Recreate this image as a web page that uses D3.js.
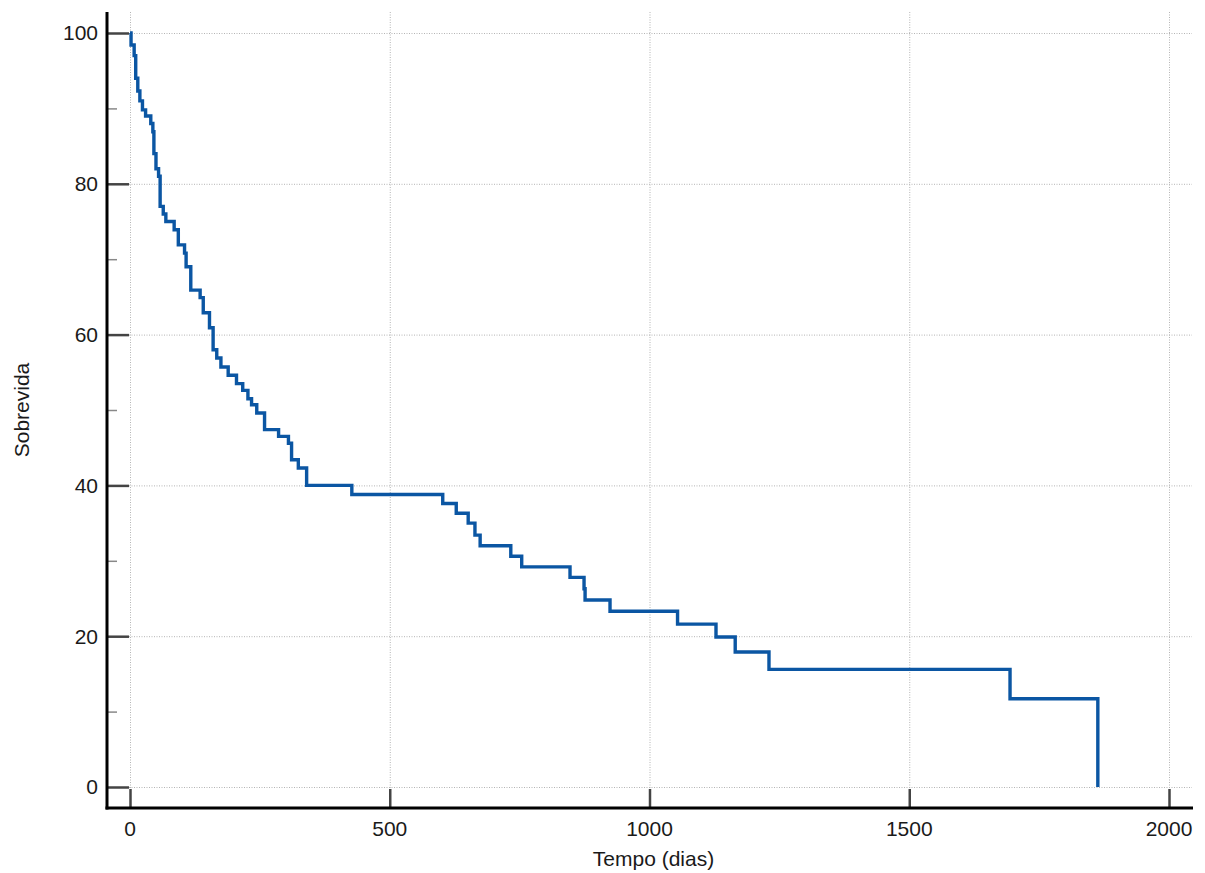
<!DOCTYPE html>
<html>
<head>
<meta charset="utf-8">
<script src="https://cdn.jsdelivr.net/npm/d3@7"></script>
<style>
  body { margin: 0; background: #fff; }
  text { font-family: "Liberation Sans", Arial, sans-serif; fill: #1a1a1a; }
</style>
</head>
<body>
<div id="chart"></div>
<script>
// Kaplan-Meier curve
const tempo = [0, 2, 8, 11, 15, 19, 24, 30, 40, 44, 46, 50, 55, 58, 64, 69, 85, 93, 105, 108, 117, 135, 141, 153, 160, 167, 175, 189, 205, 217, 227, 234, 244, 259, 286, 305, 311, 324, 340, 427, 602, 628, 651, 664, 674, 733, 754, 847, 874, 876, 924, 1054, 1128, 1165, 1230, 1694, 1863];
const sobrevida = [100, 98.4, 97, 94, 92.3, 91, 89.8, 89, 88, 86.9, 84, 82, 81, 77, 76, 75, 73.9, 71.9, 70.8, 69, 65.9, 64.9, 62.9, 60.9, 58, 56.9, 55.7, 54.6, 53.5, 52.6, 51.5, 50.7, 49.6, 47.4, 46.5, 45.6, 43.4, 42.3, 40, 38.8, 37.6, 36.3, 35, 33.4, 32, 30.6, 29.2, 27.8, 26.3, 24.8, 23.3, 21.6, 19.9, 17.9, 15.6, 11.7, 0];
const xTicks = [0, 500, 1000, 1500, 2000];
const yTicks = [0, 20, 40, 60, 80, 100];
const yMinor = [10, 30, 50, 70, 90];

const W = 1205, H = 873;
const plotLeft = 107, plotRight = 1192, plotTop = 12, plotBottom = 808;

const svg = d3.select("#chart")
    .append("svg")
    .attr("width", W)
    .attr("height", H);

const x = d3.scaleLinear().domain([0, 2000]).range([130, 1169]);
const y = d3.scaleLinear().domain([0, 100]).range([787, 33]);

// dotted grid
const grid = svg.append("g")
    .attr("stroke", "#b4b4b4")
    .attr("stroke-width", 1)
    .attr("stroke-dasharray", "1,1.5");

grid.selectAll(".gx")
    .data(xTicks)
    .join("line")
    .attr("x1", d => x(d) + 0.5).attr("x2", d => x(d) + 0.5)
    .attr("y1", plotTop).attr("y2", plotBottom - 20);

grid.selectAll(".gy")
    .data(yTicks)
    .join("line")
    .attr("x1", plotLeft + 22).attr("x2", plotRight)
    .attr("y1", d => y(d) + 0.5).attr("y2", d => y(d) + 0.5);

// survival step line
const line = d3.line()
    .x((d, i) => x(tempo[i]))
    .y(d => y(d))
    .curve(d3.curveStepAfter);

svg.append("path")
    .datum(sobrevida)
    .attr("d", line)
    .attr("fill", "none")
    .attr("stroke", "#0b56a3")
    .attr("stroke-width", 3.4)
    .attr("stroke-linejoin", "miter");

// axes (ticks drawn inward, like the original)
const yAxis = svg.append("g").attr("transform", `translate(${plotLeft},0)`);
yAxis.call(d3.axisRight(y).tickValues(yTicks).tickSize(22).tickFormat(""));
yAxis.selectAll(".tick line").attr("stroke", "#444").attr("stroke-width", 2.5);
yAxis.select(".domain").remove();

const yMinorAxis = svg.append("g").attr("transform", `translate(${plotLeft},0)`);
yMinorAxis.call(d3.axisRight(y).tickValues(yMinor).tickSize(10).tickFormat(""));
yMinorAxis.selectAll(".tick line").attr("stroke", "#888").attr("stroke-width", 1.5);
yMinorAxis.select(".domain").remove();

svg.selectAll(".ylab")
    .data(yTicks)
    .join("text")
    .attr("x", 98)
    .attr("y", d => y(d))
    .attr("dy", "0.35em")
    .attr("text-anchor", "end")
    .style("font-size", "21px")
    .text(d => d);

const xAxis = svg.append("g").attr("transform", `translate(0,${plotBottom})`);
xAxis.call(d3.axisTop(x).tickValues(xTicks).tickSize(19).tickFormat(""));
xAxis.selectAll(".tick line").attr("stroke", "#444").attr("stroke-width", 2.5);
xAxis.select(".domain").remove();

svg.selectAll(".xlab")
    .data(xTicks)
    .join("text")
    .attr("x", d => x(d))
    .attr("y", 836)
    .attr("text-anchor", "middle")
    .style("font-size", "21px")
    .text(d => d);

// axis lines
svg.append("line")
    .attr("x1", plotLeft).attr("x2", plotLeft)
    .attr("y1", plotTop).attr("y2", plotBottom + 1.5)
    .attr("stroke", "#000").attr("stroke-width", 3);
svg.append("line")
    .attr("x1", plotLeft - 1.5).attr("x2", plotRight + 1)
    .attr("y1", plotBottom).attr("y2", plotBottom)
    .attr("stroke", "#000").attr("stroke-width", 3);

// titles
svg.append("text")
    .attr("x", (plotLeft + plotRight) / 2 + 4)
    .attr("y", 866)
    .attr("text-anchor", "middle")
    .style("font-size", "21px")
    .text("Tempo (dias)");

svg.append("text")
    .attr("transform", `translate(29,${(plotTop + plotBottom) / 2}) rotate(-90)`)
    .attr("text-anchor", "middle")
    .style("font-size", "21px")
    .text("Sobrevida");
</script>
</body>
</html>
